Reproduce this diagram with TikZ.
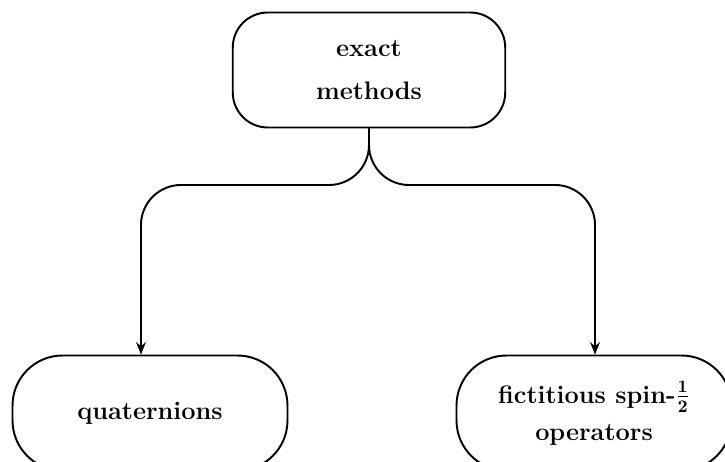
\documentclass[tikz,border=0pt]{standalone}
\usetikzlibrary{positioning, arrows.meta}

\begin{document}
\begin{tikzpicture}[
  x=0.02cm, y=-0.02cm,
  font=\Large\bfseries,
  box/.style={rectangle, draw, line width=1.1pt, align=center,
              minimum width=5.45cm, minimum height=2.3cm},
  topbox/.style={box, rounded corners=0.7cm},
  leaf/.style={box, rounded corners=1cm, minimum width=5.5cm},
  arr/.style={-{Stealth[length=7pt,width=5.5pt]}, line width=1.1pt, rounded corners=0.8cm},
]
\useasboundingbox (0,0) rectangle (725,462);
\clip (0,0) rectangle (725,462);

% ---- Nodes ----
\node[topbox] (exact) at (369,70)  {exact\\[6pt]methods};
\node[leaf]   (quat)  at (150,413) {quaternions};
\node[leaf]   (spin)  at (594,413) {fictitious spin-{\boldmath$\frac{1}{2}$}\\[3pt]operators};

% ---- Fork points ----
\coordinate (forkL) at (141,185);
\coordinate (forkR) at (595,185);

% ---- Branches ----
\draw[arr] (exact.south) |- (forkL) -- (forkL |- quat.north);
\draw[arr] (exact.south) |- (forkR) -- (forkR |- spin.north);

\end{tikzpicture}
\end{document}
